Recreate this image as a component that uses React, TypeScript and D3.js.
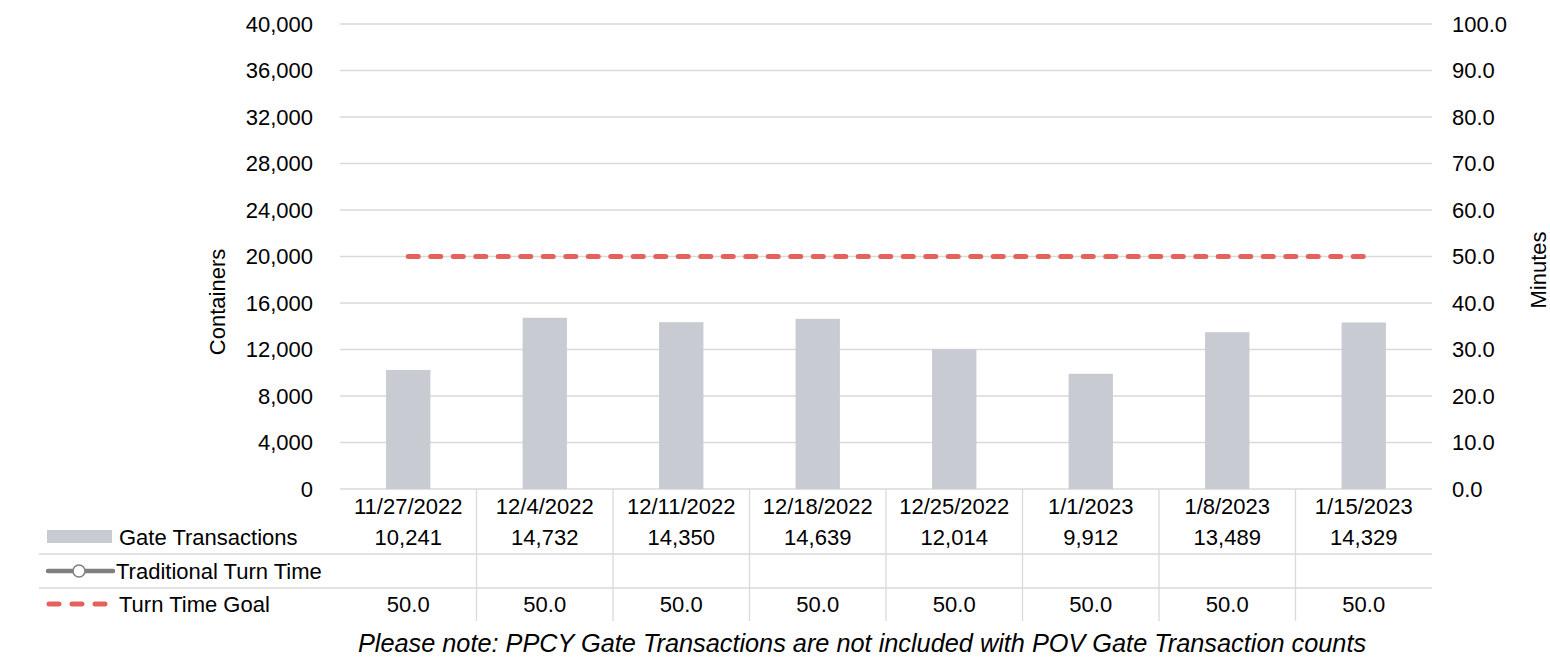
import React from "react";
import * as d3 from "d3";

const categories = ["11/27/2022", "12/4/2022", "12/11/2022", "12/18/2022", "12/25/2022", "1/1/2023", "1/8/2023", "1/15/2023"];
const gateTransactions = [10241, 14732, 14350, 14639, 12014, 9912, 13489, 14329];
const turnTimeGoal = [50, 50, 50, 50, 50, 50, 50, 50];
const leftTicks = [0, 4000, 8000, 12000, 16000, 20000, 24000, 28000, 32000, 36000, 40000];
const rightTicks = [0, 10, 20, 30, 40, 50, 60, 70, 80, 90, 100];

const W = 1550, H = 661;
const FONT = "'Liberation Sans', Arial, sans-serif";

export default function App() {
  const x0 = 340, x1 = 1432, yTop = 24, yBot = 489;
  const x = d3.scaleBand<string>().domain(categories).range([x0, x1]).paddingInner(0).paddingOuter(0);
  const yL = d3.scaleLinear().domain([0, 40000]).range([yBot, yTop]);
  const yR = d3.scaleLinear().domain([0, 100]).range([yBot, yTop]);
  const bw = x.bandwidth();
  const barW = bw * 0.325;
  const fmt = d3.format(",");
  const fmt1 = d3.format(".1f");
  const line = d3.line<number>().x((_, i) => x(categories[i])! + bw / 2).y((d) => yR(d));
  const grid = "#d9d9d9";
  const rowY = [506, 537, 571, 604];
  const fs = 22;

  return (
    <svg width={W} height={H} style={{ position: "absolute", left: 0, top: 0, fontFamily: FONT }}>
      <rect width={W} height={H} fill="#fff" />
      {leftTicks.map((t) => (
        <line key={"g" + t} x1={x0} x2={x1} y1={yL(t)} y2={yL(t)} stroke={grid} strokeWidth={1.3} />
      ))}
      {leftTicks.map((t) => (
        <text key={"l" + t} x={313} y={yL(t)} dy="0.35em" textAnchor="end" fontSize={fs} fill="#000">{fmt(t)}</text>
      ))}
      {rightTicks.map((t) => (
        <text key={"r" + t} x={1452} y={yR(t)} dy="0.35em" textAnchor="start" fontSize={fs} fill="#000">{fmt1(t)}</text>
      ))}
      <text transform={`translate(225,302) rotate(-90)`} textAnchor="middle" fontSize={fs} fill="#000">Containers</text>
      <text transform={`translate(1546,270) rotate(-90)`} textAnchor="middle" fontSize={fs} fill="#000">Minutes</text>
      {gateTransactions.map((v, i) => (
        <rect key={"b" + i} x={x(categories[i])! + bw / 2 - barW / 2} y={yL(v)} width={barW} height={yBot - yL(v)} fill="#c8cbd2" />
      ))}
      <path d={line(turnTimeGoal)!} fill="none" stroke="#e5625c" strokeWidth={5} strokeDasharray="10 12.5" strokeLinecap="round" />
      {/* table */}
      <line x1={39} x2={x1} y1={554} y2={554} stroke={grid} strokeWidth={1.3} />
      <line x1={39} x2={x1} y1={588} y2={588} stroke={grid} strokeWidth={1.3} />
      {categories.slice(1).map((c) => (
        <line key={"v" + c} x1={x(c)!} x2={x(c)!} y1={yBot} y2={621} stroke={grid} strokeWidth={1.3} />
      ))}
      {categories.map((c, i) => (
        <g key={"t" + c}>
          <text x={x(c)! + bw / 2} y={rowY[0]} dy="0.35em" textAnchor="middle" fontSize={fs}>{c}</text>
          <text x={x(c)! + bw / 2} y={rowY[1]} dy="0.35em" textAnchor="middle" fontSize={fs}>{fmt(gateTransactions[i])}</text>
          <text x={x(c)! + bw / 2} y={rowY[3]} dy="0.35em" textAnchor="middle" fontSize={fs}>{fmt1(turnTimeGoal[i])}</text>
        </g>
      ))}
      {/* legend */}
      <rect x={47} y={530} width={65} height={13} fill="#c8cbd2" />
      <text x={119} y={rowY[1]} dy="0.35em" fontSize={fs}>Gate Transactions</text>
      <line x1={48} x2={113} y1={571} y2={571} stroke="#7f7f7f" strokeWidth={4.5} strokeLinecap="round" />
      <circle cx={79} cy={571} r={6} fill="#fff" stroke="#7f7f7f" strokeWidth={1.5} />
      <text x={116} y={rowY[2]} dy="0.35em" fontSize={fs}>Traditional Turn Time</text>
      <line x1={49} x2={105} y1={604} y2={604} stroke="#e5625c" strokeWidth={5} strokeDasharray="10 13" strokeLinecap="round" />
      <text x={119} y={rowY[3]} dy="0.35em" fontSize={fs}>Turn Time Goal</text>
      <text x={862} y={643} dy="0.35em" textAnchor="middle" fontSize={25.3} fontStyle="italic">Please note: PPCY Gate Transactions are not included with POV Gate Transaction counts</text>
    </svg>
  );
}
